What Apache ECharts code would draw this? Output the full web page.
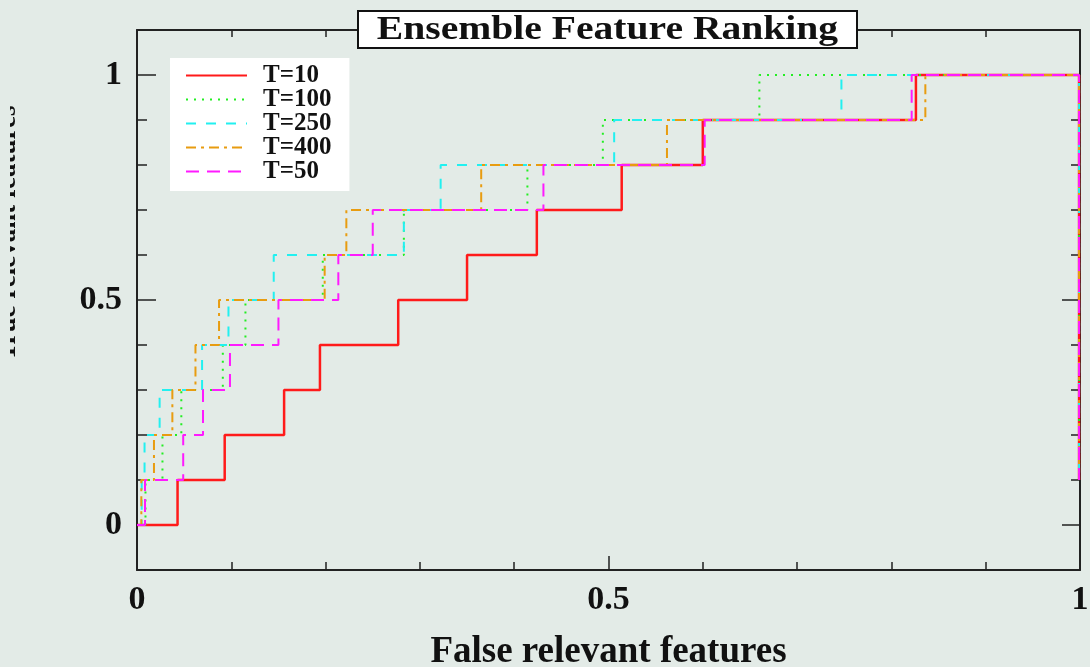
<!DOCTYPE html>
<html>
<head>
<meta charset="utf-8">
<script src="https://cdn.jsdelivr.net/npm/echarts@6/dist/echarts.min.js"></script>
<style>
html,body{margin:0;padding:0;background:#e3ebe7;}
#chart{width:1090px;height:667px;}
</style>
</head>
<body>
<div id="chart"></div>
<script>
// ---- data ----
const seriesNames = ['T=10', 'T=100', 'T=250', 'T=400', 'T=50'];
const levels = [0.1, 0.2, 0.3, 0.4, 0.5, 0.6, 0.7, 0.8, 0.9, 1.0];
// x position (false relevant features) at which each curve rises to the matching level
const riseT10  = [0.043, 0.093, 0.156, 0.194, 0.277, 0.350, 0.424, 0.514, 0.600, 0.826];
const riseT100 = [0.009, 0.027, 0.047, 0.091, 0.115, 0.197, 0.283, 0.414, 0.494, 0.660];
const riseT250 = [0.005, 0.008, 0.024, 0.069, 0.097, 0.145, 0.283, 0.322, 0.506, 0.747];
const riseT400 = [0.0046, 0.018, 0.0375, 0.062, 0.087, 0.199, 0.222, 0.365, 0.562, 0.836];
const riseT50  = [0.0085, 0.049, 0.070, 0.0986, 0.150, 0.2135, 0.250, 0.431, 0.602, 0.8215];
const startPoint = [0, 0];
const tailPoint = [0.999, 0.1];
// ticks / labels
const xShortTicks = [0.1, 0.2, 0.3, 0.4, 0.6, 0.7, 0.8, 0.9];
const xLongTicks = [0.5];
const xLabels = [0, 0.5, 1];
const yShortTicks = [0.1, 0.2, 0.3, 0.4, 0.6, 0.7, 0.8, 0.9];
const yLongTicks = [0, 0.5, 1];
const yLabels = [0, 0.5, 1];

const colors = ['#ff1a1a', '#22ee22', '#22f0f0', '#e89c10', '#ff1aff'];
const dashes = ['solid', [2, 6], [10, 10], [10, 5, 3, 5], [13, 8]];
const widths = [2.5, 2, 2, 2, 2];
const rises = [riseT10, riseT100, riseT250, riseT400, riseT50];

function buildSteps(r) {
  const pts = [startPoint.slice()];
  r.forEach((x, i) => pts.push([x, levels[i]]));
  pts.push(tailPoint.slice());
  return pts;
}

const FONT = 'Liberation Serif';
const AX = '#222';
const BG = '#e3ebe7';

function xAxisDef(pos, ticks, len, showLine, showLabel) {
  return {
    type: 'value', position: pos, min: 0, max: 1, interval: 0.1,
    axisLine: {show: showLine, onZero: false, lineStyle: {color: AX, width: 2}},
    axisTick: {show: true, inside: true, length: len, customValues: ticks, lineStyle: {color: AX, width: 1.5}},
    axisLabel: showLabel ? {show: true, customValues: xLabels, formatter: v => String(v), fontFamily: FONT, fontWeight: 'bold', fontSize: 34, color: '#111', margin: 13} : {show: false},
    splitLine: {show: false}
  };
}
function yAxisDef(pos, ticks, len, showLine, showLabel) {
  return {
    type: 'value', position: pos, min: -0.1, max: 1.1, interval: 0.1,
    axisLine: {show: showLine, onZero: false, lineStyle: {color: AX, width: 2}},
    axisTick: {show: true, inside: true, length: len, customValues: ticks, lineStyle: {color: AX, width: 1.5}},
    axisLabel: showLabel ? {show: true, customValues: yLabels, formatter: v => String(v), fontFamily: FONT, fontWeight: 'bold', fontSize: 34, color: '#111', margin: 15} : {show: false},
    splitLine: {show: false}
  };
}

const chart = echarts.init(document.getElementById('chart'), null, {renderer: 'canvas'});
const option = {
  backgroundColor: BG,
  animation: false,
  grid: {left: 137, right: 10, top: 30, bottom: 97, containLabel: false, outerBoundsMode: 'none'},
  xAxis: [
    Object.assign(xAxisDef('bottom', xShortTicks, 8, true, true), {
      name: 'False relevant features', nameLocation: 'middle', nameGap: 64,
      nameTextStyle: {fontFamily: FONT, fontWeight: 'bold', fontSize: 37, color: '#111'}
    }),
    xAxisDef('bottom', xLongTicks, 14, false, false),
    xAxisDef('top', xShortTicks, 7, true, false)
  ],
  yAxis: [
    yAxisDef('left', yShortTicks, 10, true, true),
    yAxisDef('left', yLongTicks, 19, false, false),
    yAxisDef('right', yShortTicks, 9, true, false),
    yAxisDef('right', yLongTicks, 18, false, false)
  ],
  legend: {
    orient: 'vertical', left: 170, top: 58,
    backgroundColor: '#ffffff',
    padding: [5, 18, 7, 15],
    itemWidth: 61, itemHeight: 14, itemGap: -1,
    itemStyle: {opacity: 0},
    textStyle: {fontFamily: FONT, fontWeight: 'bold', fontSize: 25, color: '#111', padding: [0, 0, 0, 11]},
    data: seriesNames
  },
  series: seriesNames.map((n, i) => ({
    name: n, type: 'line', step: 'end', symbol: 'none',
    xAxisIndex: 0, yAxisIndex: 0,
    color: colors[i],
    lineStyle: {color: colors[i], width: widths[i], type: dashes[i], cap: 'butt'},
    data: buildSteps(rises[i]),
    z: 3 + i
  })),
  graphic: [
    {type: 'rect', z: 200, shape: {x: 358, y: 11, width: 499, height: 37},
      style: {fill: '#ffffff', stroke: '#111', lineWidth: 2}},
    {type: 'text', z: 201, x: 607.5, y: 30, scaleX: 1.2,
      style: {text: 'Ensemble Feature Ranking', fontFamily: FONT, fontWeight: 'bold', fontSize: 33, fill: '#111', align: 'center', verticalAlign: 'middle'}},
    {type: 'text', x: 8, y: 233, rotation: Math.PI / 2, z: 150,
      style: {text: 'True relevant features', fontFamily: FONT, fontWeight: 'bold', fontSize: 27, fill: '#111', align: 'center', verticalAlign: 'middle'}},
    {type: 'rect', z: 210, shape: {x: 0, y: 80, width: 10, height: 320}, style: {fill: BG}}
  ]
};
chart.setOption(option);
</script>
</body>
</html>
